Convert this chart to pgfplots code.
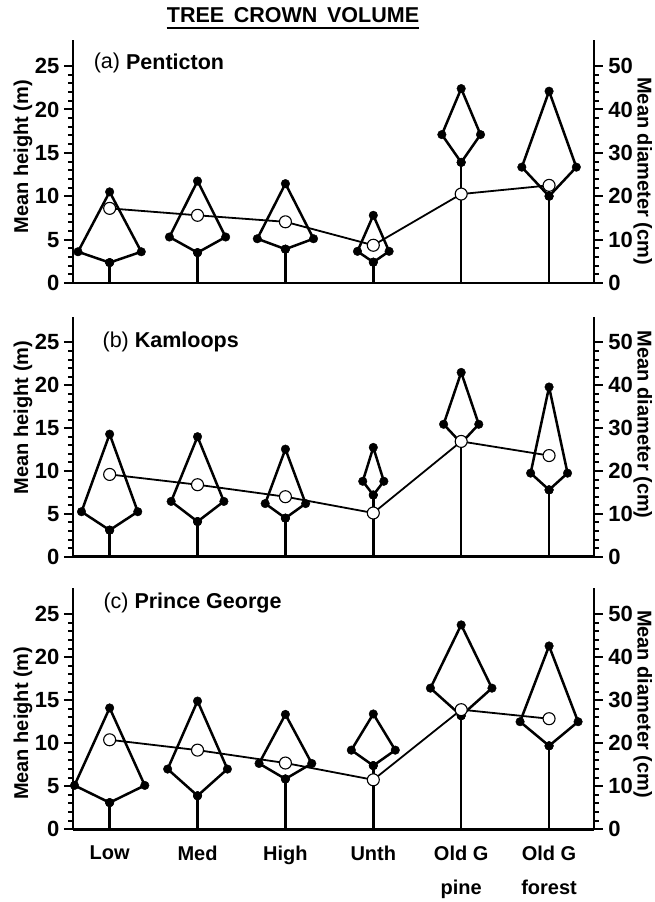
\documentclass[border=0pt]{standalone}
\usepackage{fontspec}
\setmainfont{Liberation Sans}
\usepackage{pgfplots}
\pgfplotsset{compat=1.18}

\newcommand{\fsz}{\fontsize{20}{24}\selectfont}
\newcommand{\tsz}{\fontsize{22}{26}\selectfont}
\newcommand{\psz}{\fontsize{21.5}{25}\selectfont}
\newcommand{\tree}[6]{%
  \addplot[line width=2.5pt, no marks] coordinates {(#1,0) (#1,#2)};
  \addplot[line width=2.5pt, line join=round, mark=*, mark size=4.3pt,
    mark options={solid, fill=black, line width=0.4pt}]
    coordinates {(#1,#2) (#3,#4) (#1,#5) (#6,#4) (#1,#2)};
}

\pgfplotsset{
  common/.style={
    scale only axis, width=521pt, xmin=-0.418, xmax=5.51, clip=false,
    tick align=outside, major tick length=9pt, minor tick length=5pt,
    every tick/.style={black, line width=2pt},
    axis line style={line width=2.6pt},
    /pgf/number format/assume math mode=true,
    ticklabel style={font=\tsz\bfseries},
  },
  hgt/.style={common, ymin=0, ymax=28,
    axis x line*=bottom, axis y line*=left,
    ytick={0,5,...,25}, minor y tick num=4,
    xtick=\empty, yticklabel style={xshift=-1pt}},
  dia/.style={common, ymin=0, ymax=56,
    axis y line*=right, hide x axis,
    ytick={0,10,...,50}, minor y tick num=4,
    yticklabel style={xshift=2pt}},
  dline/.style={line width=1.8pt, mark=*, mark size=6pt,
    mark options={solid, fill=white, line width=1.1pt}},
}

\begin{document}
\begin{tikzpicture}
\useasboundingbox (0,0) rectangle (654pt,-902pt);

\node[font=\fontsize{21.5}{25}\selectfont\bfseries, anchor=base, inner sep=0pt] (T) at (293pt,-23pt) {TREE\hspace{0.45em}CROWN\hspace{0.45em}VOLUME};
\draw[line width=2.4pt] ([yshift=-5pt]T.base west) -- ([yshift=-5pt]T.base east);

%% ---------- (a) Penticton ----------
\begin{axis}[hgt, height=243pt, at={(72.9pt,-283pt)}, anchor=south west]
\tree{0}{2.35}{-0.36}{3.6}{10.5}{0.36}
\tree{1}{3.5}{0.68}{5.3}{11.75}{1.32}
\tree{2}{3.9}{1.68}{5.1}{11.45}{2.32}
\tree{3}{2.4}{2.82}{3.65}{7.8}{3.18}
\tree{4}{13.9}{3.78}{17.1}{22.4}{4.22}
\tree{5}{10.0}{4.69}{13.35}{22.1}{5.31}
\node[anchor=west, font=\psz] at (axis cs:-0.22,25.3) {(a) \textbf{Penticton}};
\node[rotate=90, font=\fsz\bfseries] at (axis description cs:-0.096,0.52) {Mean height (m)};
\end{axis}
\begin{axis}[dia, height=243pt, at={(72.9pt,-283pt)}, anchor=south west]
\addplot[dline] coordinates {(0,17.2) (1,15.6) (2,14.1) (3,8.7) (4,20.5) (5,22.5)};
\node[rotate=-90, font=\fsz\bfseries] at (axis description cs:1.094,0.46) {Mean diameter (cm)};
\end{axis}

%% ---------- (b) Kamloops ----------
\begin{axis}[hgt, height=240pt, at={(72.9pt,-556.7pt)}, anchor=south west]
\tree{0}{3.1}{-0.32}{5.25}{14.3}{0.32}
\tree{1}{4.1}{0.70}{6.45}{14.0}{1.30}
\tree{2}{4.5}{1.77}{6.2}{12.55}{2.23}
\tree{3}{7.2}{2.88}{8.8}{12.75}{3.12}
\tree{4}{13.25}{3.80}{15.45}{21.5}{4.20}
\tree{5}{7.8}{4.79}{9.75}{19.8}{5.21}
\node[anchor=west, font=\psz] at (axis cs:-0.12,25.0) {(b) \textbf{Kamloops}};
\node[rotate=90, font=\fsz\bfseries] at (axis description cs:-0.096,0.58) {Mean height (m)};
\end{axis}
\begin{axis}[dia, height=240pt, at={(72.9pt,-556.7pt)}, anchor=south west]
\addplot[dline] coordinates {(0,19.2) (1,16.8) (2,14.0) (3,10.2) (4,26.9) (5,23.6)};
\node[rotate=-90, font=\fsz\bfseries] at (axis description cs:1.094,0.55) {Mean diameter (cm)};
\end{axis}

%% ---------- (c) Prince George ----------
\begin{axis}[hgt, height=241pt, at={(72.9pt,-829.3pt)}, anchor=south west,
  xtick={0,1,2,3,4,5}, xtick style={draw=none},
  xticklabels={Low,Med,High,Unth,{Old G\\[10pt]pine},{Old G\\[10pt]forest}},
  xticklabel style={align=center, anchor=north, yshift=-4pt, font=\fsz\bfseries}]
\tree{0}{3.1}{-0.40}{5.1}{14.1}{0.40}
\tree{1}{3.9}{0.66}{7.0}{14.9}{1.34}
\tree{2}{5.85}{1.70}{7.65}{13.35}{2.30}
\tree{3}{7.4}{2.75}{9.2}{13.4}{3.25}
\tree{4}{13.2}{3.65}{16.4}{23.75}{4.35}
\tree{5}{9.7}{4.67}{12.5}{21.3}{5.33}
\node[anchor=west, font=\psz] at (axis cs:-0.11,26.3) {(c) \textbf{Prince George}};
\node[rotate=90, font=\fsz\bfseries] at (axis description cs:-0.096,0.44) {Mean height (m)};
\end{axis}
\begin{axis}[dia, height=241pt, at={(72.9pt,-829.3pt)}, anchor=south west]
\addplot[dline] coordinates {(0,20.8) (1,18.4) (2,15.4) (3,11.5) (4,27.8) (5,25.7)};
\node[rotate=-90, font=\fsz\bfseries] at (axis description cs:1.094,0.52) {Mean diameter (cm)};
\end{axis}
\end{tikzpicture}
\end{document}
